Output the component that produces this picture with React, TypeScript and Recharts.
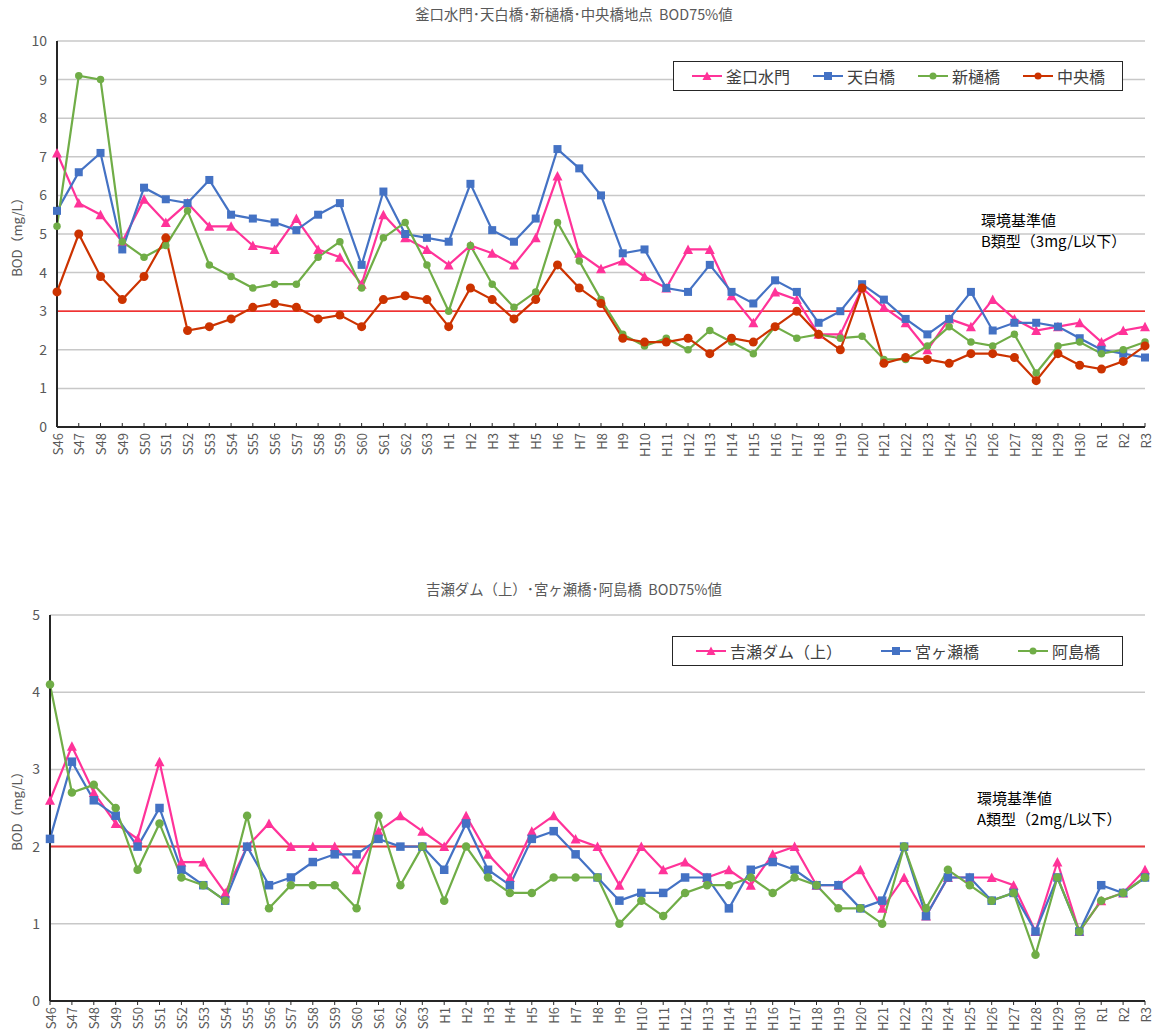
import { CartesianGrid, Legend, Line, LineChart, ReferenceLine, XAxis, YAxis } from 'recharts';

const FONT = "'Noto Sans CJK JP', 'Noto Sans', sans-serif";

const years = [
  'S46', 'S47', 'S48', 'S49', 'S50', 'S51', 'S52', 'S53', 'S54', 'S55', 'S56', 'S57', 'S58', 'S59', 'S60', 'S61', 'S62', 'S63',
  'H1', 'H2', 'H3', 'H4', 'H5', 'H6', 'H7', 'H8', 'H9', 'H10', 'H11', 'H12', 'H13', 'H14', 'H15', 'H16', 'H17', 'H18', 'H19', 'H20',
  'H21', 'H22', 'H23', 'H24', 'H25', 'H26', 'H27', 'H28', 'H29', 'H30', 'R1', 'R2', 'R3',
];

// upper chart
const kamaguchi = [
  7.1, 5.8, 5.5, 4.8, 5.9, 5.3, 5.8, 5.2, 5.2, 4.7, 4.6, 5.4, 4.6, 4.4, 3.7, 5.5, 4.9, 4.6,
  4.2, 4.7, 4.5, 4.2, 4.9, 6.5, 4.5, 4.1, 4.3, 3.9, 3.6, 4.6, 4.6, 3.4, 2.7, 3.5, 3.3, 2.4, 2.4, 3.6,
  3.1, 2.7, 2.0, 2.8, 2.6, 3.3, 2.8, 2.5, 2.6, 2.7, 2.2, 2.5, 2.6,
];
const tenpaku = [
  5.6, 6.6, 7.1, 4.6, 6.2, 5.9, 5.8, 6.4, 5.5, 5.4, 5.3, 5.1, 5.5, 5.8, 4.2, 6.1, 5.0, 4.9,
  4.8, 6.3, 5.1, 4.8, 5.4, 7.2, 6.7, 6.0, 4.5, 4.6, 3.6, 3.5, 4.2, 3.5, 3.2, 3.8, 3.5, 2.7, 3.0, 3.7,
  3.3, 2.8, 2.4, 2.8, 3.5, 2.5, 2.7, 2.7, 2.6, 2.3, 2.0, 1.9, 1.8,
];
const shinhi = [
  5.2, 9.1, 9.0, 4.8, 4.4, 4.7, 5.6, 4.2, 3.9, 3.6, 3.7, 3.7, 4.4, 4.8, 3.6, 4.9, 5.3, 4.2,
  3.0, 4.7, 3.7, 3.1, 3.5, 5.3, 4.3, 3.3, 2.4, 2.1, 2.3, 2.0, 2.5, 2.2, 1.9, 2.6, 2.3, 2.4, 2.3, 2.35,
  1.75, 1.75, 2.1, 2.6, 2.2, 2.1, 2.4, 1.4, 2.1, 2.2, 1.9, 2.0, 2.2,
];
const chuo = [
  3.5, 5.0, 3.9, 3.3, 3.9, 4.9, 2.5, 2.6, 2.8, 3.1, 3.2, 3.1, 2.8, 2.9, 2.6, 3.3, 3.4, 3.3,
  2.6, 3.6, 3.3, 2.8, 3.3, 4.2, 3.6, 3.2, 2.3, 2.2, 2.2, 2.3, 1.9, 2.3, 2.2, 2.6, 3.0, 2.4, 2.0, 3.6,
  1.65, 1.8, 1.75, 1.65, 1.9, 1.9, 1.8, 1.2, 1.9, 1.6, 1.5, 1.7, 2.1,
];

// lower chart
const kise = [
  2.6, 3.3, 2.7, 2.3, 2.1, 3.1, 1.8, 1.8, 1.4, 2.0, 2.3, 2.0, 2.0, 2.0, 1.7, 2.2, 2.4, 2.2,
  2.0, 2.4, 1.9, 1.6, 2.2, 2.4, 2.1, 2.0, 1.5, 2.0, 1.7, 1.8, 1.6, 1.7, 1.5, 1.9, 2.0, 1.5, 1.5, 1.7,
  1.2, 1.6, 1.1, 1.6, 1.6, 1.6, 1.5, 0.9, 1.8, 0.9, 1.3, 1.4, 1.7,
];
const miyagase = [
  2.1, 3.1, 2.6, 2.4, 2.0, 2.5, 1.7, 1.5, 1.3, 2.0, 1.5, 1.6, 1.8, 1.9, 1.9, 2.1, 2.0, 2.0,
  1.7, 2.3, 1.7, 1.5, 2.1, 2.2, 1.9, 1.6, 1.3, 1.4, 1.4, 1.6, 1.6, 1.2, 1.7, 1.8, 1.7, 1.5, 1.5, 1.2,
  1.3, 2.0, 1.1, 1.6, 1.6, 1.3, 1.4, 0.9, 1.6, 0.9, 1.5, 1.4, 1.6,
];
const ajima = [
  4.1, 2.7, 2.8, 2.5, 1.7, 2.3, 1.6, 1.5, 1.3, 2.4, 1.2, 1.5, 1.5, 1.5, 1.2, 2.4, 1.5, 2.0,
  1.3, 2.0, 1.6, 1.4, 1.4, 1.6, 1.6, 1.6, 1.0, 1.3, 1.1, 1.4, 1.5, 1.5, 1.6, 1.4, 1.6, 1.5, 1.2, 1.2,
  1.0, 2.0, 1.2, 1.7, 1.5, 1.3, 1.4, 0.6, 1.6, 0.9, 1.3, 1.4, 1.6,
];

const topTicks = [0, 1, 2, 3, 4, 5, 6, 7, 8, 9, 10];
const bottomTicks = [0, 1, 2, 3, 4, 5];

type Shape = 'triangle' | 'square' | 'circle';
type Series = { key: string; name: string; color: string; shape: Shape; size: number };

const topSeries: Series[] = [
  { key: 'kamaguchi', name: '釜口水門', color: '#ff3399', shape: 'triangle', size: 9 },
  { key: 'tenpaku', name: '天白橋', color: '#4472c4', shape: 'square', size: 8 },
  { key: 'shinhi', name: '新樋橋', color: '#70ad47', shape: 'circle', size: 7.5 },
  { key: 'chuo', name: '中央橋', color: '#cc3300', shape: 'circle', size: 9 },
];
const bottomSeries: Series[] = [
  { key: 'kise', name: '吉瀬ダム（上）', color: '#ff3399', shape: 'triangle', size: 9 },
  { key: 'miyagase', name: '宮ヶ瀬橋', color: '#4472c4', shape: 'square', size: 8.5 },
  { key: 'ajima', name: '阿島橋', color: '#70ad47', shape: 'circle', size: 8.5 },
];

const topData = years.map((year, i) => ({ year, kamaguchi: kamaguchi[i], tenpaku: tenpaku[i], shinhi: shinhi[i], chuo: chuo[i] }));
const bottomData = years.map((year, i) => ({ year, kise: kise[i], miyagase: miyagase[i], ajima: ajima[i] }));

function Marker({ cx, cy, shape, size, color }: { cx: number; cy: number; shape: Shape; size: number; color: string }) {
  const h = size / 2;
  if (shape === 'triangle') {
    return <path d={`M${cx},${cy - h - 0.5}L${cx + h + 0.5},${cy + h}L${cx - h - 0.5},${cy + h}Z`} fill={color} />;
  }
  if (shape === 'square') {
    return <rect x={cx - h} y={cy - h} width={size} height={size} fill={color} />;
  }
  return <circle cx={cx} cy={cy} r={h} fill={color} />;
}

const makeDot = (s: Series) => (p: any) => {
  if (p.cx == null || p.cy == null) return <g key={p.index} />;
  return <Marker key={p.index} cx={p.cx} cy={p.cy} shape={s.shape} size={s.size} color={s.color} />;
};

const makeXTick = (up: boolean) => (p: any) => {
  const { x, y, payload } = p;
  return (
    <g>
      <line x1={x} x2={x} y1={up ? y - 4 : y} y2={up ? y : y + 4} stroke="#262626" />
      <text
        x={x}
        y={y + 6}
        transform={`rotate(-90 ${x} ${y + 6})`}
        textAnchor="end"
        dominantBaseline="central"
        fontSize={13}
        fontFamily={FONT}
        fill="#595959"
      >
        {payload.value}
      </text>
    </g>
  );
};

function LegendBox({ series, gap }: { series: Series[]; gap: number }) {
  return (
    <div
      style={{
        boxSizing: 'border-box',
        height: 30,
        border: '1px solid #262626',
        background: '#fff',
        display: 'flex',
        alignItems: 'center',
        justifyContent: 'center',
        gap,
        fontFamily: FONT,
        fontSize: 16,
        color: '#404040',
      }}
    >
      {series.map((s) => (
        <div key={s.key} style={{ display: 'flex', alignItems: 'center' }}>
          <svg width={32} height={12} style={{ marginRight: 3 }}>
            <line x1={1} x2={31} y1={6} y2={6} stroke={s.color} strokeWidth={2} />
            <Marker cx={16} cy={6} shape={s.shape} size={s.shape === 'circle' ? 7 : 8} color={s.color} />
          </svg>
          <span>{s.name}</span>
        </div>
      ))}
    </div>
  );
}

function Panel(props: {
  top: number;
  height: number;
  data: any[];
  series: Series[];
  ticks: number[];
  max: number;
  margin: { top: number; right: number; left: number; bottom: number };
  xHeight: number;
  tickUp: boolean;
  limit: number;
  limitColor: string;
  limitWidth: number;
  title: string;
  titleY: number;
  labelY: number;
  legend: { left: number; top: number; width: number; gap: number };
  note: { left: number; top: number; line: string };
}) {
  const { top, height, data, series, ticks, max, margin, xHeight, tickUp } = props;
  return (
    <div style={{ position: 'absolute', left: 0, top, width: 1161, height, fontFamily: FONT }}>
      <div style={{ position: 'absolute', left: 0, width: 1148, top: props.titleY - 10, textAlign: 'center', fontSize: 14.4, color: '#595959', whiteSpace: 'pre' }}>
        {props.title}
      </div>
      <div
        style={{
          position: 'absolute',
          left: 16,
          top: props.labelY,
          transform: 'translate(-50%, -50%) rotate(-90deg)',
          fontSize: 13,
          color: '#595959',
          whiteSpace: 'nowrap',
        }}
      >
        BOD（mg/L）
      </div>
      <LineChart width={1161} height={height} data={data} margin={margin}>
        <CartesianGrid vertical={false} stroke="#c8c8c8" strokeWidth={1.5} />
        <XAxis
          dataKey="year"
          interval={0}
          height={xHeight}
          tickSize={0}
          tickMargin={0}
          tickLine={false}
          tick={makeXTick(tickUp)}
          axisLine={{ stroke: '#262626', strokeWidth: 2 }}
        />
        <XAxis xAxisId="top" dataKey="year" orientation="top" height={0} tick={false} tickLine={false} axisLine={{ stroke: '#404040' }} />
        <YAxis
          domain={[0, max]}
          ticks={ticks}
          width={30}
          tickLine={false}
          tickMargin={4}
          tick={{ fontSize: 14, fill: '#595959', fontFamily: FONT }}
          axisLine={{ stroke: '#262626', strokeWidth: 2 }}
        />
        <YAxis yAxisId="right" orientation="right" domain={[0, max]} width={0} tick={false} tickLine={false} axisLine={{ stroke: '#404040' }} />
        <ReferenceLine y={props.limit} stroke={props.limitColor} strokeWidth={props.limitWidth} />
        {series.map((s) => (
          <Line
            key={s.key}
            dataKey={s.key}
            name={s.name}
            stroke={s.color}
            strokeWidth={2.2}
            dot={makeDot(s)}
            activeDot={false}
            isAnimationActive={false}
          />
        ))}
        <Legend
          layout="horizontal"
          verticalAlign="middle"
          align="center"
          wrapperStyle={{ left: props.legend.left, top: props.legend.top, width: props.legend.width, height: 30 }}
          content={() => <LegendBox series={series} gap={props.legend.gap} />}
        />
      </LineChart>
      <div style={{ position: 'absolute', left: props.note.left, top: props.note.top, fontSize: 15, lineHeight: '21px', color: '#000' }}>
        <div>環境基準値</div>
        <div>{props.note.line}</div>
      </div>
    </div>
  );
}

export default function App() {
  return (
    <div style={{ position: 'absolute', left: 0, top: 0, width: 1161, height: 1036, background: '#fff' }}>
      <Panel
        top={0}
        height={470}
        data={topData}
        series={topSeries}
        ticks={topTicks}
        max={10}
        margin={{ top: 41, right: 16, left: 27, bottom: 3 }}
        xHeight={40}
        tickUp={true}
        limit={3}
        limitColor="#ff0000"
        limitWidth={1.2}
        title={'釜口水門･天白橋･新樋橋･中央橋地点  BOD75%値'}
        titleY={13}
        labelY={234}
        legend={{ left: 673, top: 61, width: 450, gap: 22 }}
        note={{ left: 981, top: 209, line: 'B類型（3mg/L以下）' }}
      />
      <Panel
        top={560}
        height={476}
        data={bottomData}
        series={bottomSeries}
        ticks={bottomTicks}
        max={5}
        margin={{ top: 55, right: 16, left: 20, bottom: 0 }}
        xHeight={35}
        tickUp={false}
        limit={2}
        limitColor="#e8383d"
        limitWidth={2}
        title={'吉瀬ダム（上）･宮ヶ瀬橋･阿島橋  BOD75%値'}
        titleY={28}
        labelY={248}
        legend={{ left: 672, top: 76, width: 451, gap: 38 }}
        note={{ left: 977, top: 227, line: 'A類型（2mg/L以下）' }}
      />
    </div>
  );
}
